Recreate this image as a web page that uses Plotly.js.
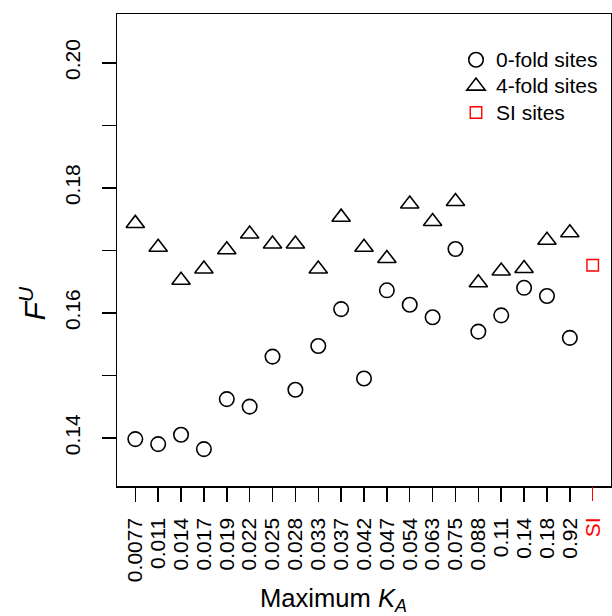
<!DOCTYPE html>
<html>
<head>
<meta charset="utf-8">
<script src="https://cdn.plot.ly/plotly-3.0.1.min.js"></script>
<style>
  html, body { margin: 0; padding: 0; background: #fff; }
  #chart { width: 612px; height: 616px; }
</style>
</head>
<body>
<div id="chart"></div>
<script>
// ---- data ----
var categories = ['0.0077','0.011','0.014','0.017','0.019','0.022','0.025','0.028','0.033','0.037',
                  '0.042','0.047','0.054','0.063','0.075','0.088','0.11','0.14','0.18','0.92'];
var zeroFold = [0.1398,0.1390,0.1405,0.1382,0.1462,0.1450,0.1530,0.1477,0.1547,0.1606,
                0.1495,0.1636,0.1613,0.1593,0.1702,0.1570,0.1596,0.1640,0.1627,0.1560];
var fourFold = [0.1743,0.1705,0.1652,0.1670,0.1701,0.1726,0.1710,0.1710,0.1670,0.1753,
                0.1705,0.1687,0.1774,0.1746,0.1778,0.1648,0.1667,0.1671,0.1716,0.1728];
var siLabel = ['SI'];
var siValue = [0.1676];
var yTickVals = [0.14,0.16,0.18,0.20];
var yTickText = ['0.14','0.16','0.18','0.20'];
var yMinorStep = 0.01;
var seriesNames = ['0-fold sites','4-fold sites','SI sites'];

// positions along the category axis
var xPos = categories.map(function(c, i){ return i + 1; });
var siPos = [categories.length + 1];

var FONT = 'Liberation Sans, Arial, Helvetica, sans-serif';
var LEGFONT = function(t){ return '<span style="font-size:21px">' + t + '</span>'; };

var traces = [
  {x: xPos, y: zeroFold, type: 'scatter', mode: 'markers', name: LEGFONT(seriesNames[0]),
   marker: {symbol: 'circle-open', size: 14.5, color: '#000', line: {width: 1.6, color: '#000'}}},
  {x: xPos, y: fourFold, type: 'scatter', mode: 'markers', name: LEGFONT(seriesNames[1]),
   marker: {symbol: 'triangle-up-open', size: 16, color: '#000', line: {width: 1.6, color: '#000'}}},
  {x: siPos, y: siValue, xaxis: 'x2', type: 'scatter', mode: 'markers', name: LEGFONT(seriesNames[2]),
   marker: {symbol: 'square-open', size: 11.5, color: '#ff0000', line: {width: 1.4, color: '#ff0000'}}}
];

var xRange = [0.2, categories.length + 1.8];
var L = 117, R = 1, T = 13.5, B = 130.3;
var W = 612, H = 616;
var pw = W - L - R, ph = H - T - B;
function px2paperX(p){ return (p - L) / pw; }
function px2paperY(p){ return (H - B - p) / ph; }

var layout = {
  width: W, height: H,
  margin: {l: L, r: R, t: T, b: B, pad: 0},
  paper_bgcolor: '#fff', plot_bgcolor: '#fff',
  font: {family: FONT, size: 21, color: '#000'},
  showlegend: true,
  legend: {
    x: px2paperX(456), y: px2paperY(41), xanchor: 'left', yanchor: 'top',
    bgcolor: 'rgba(0,0,0,0)', borderwidth: 0,
    font: {family: FONT, size: 18, color: '#000'},
    itemsizing: 'trace', tracegroupgap: 0
  },
  xaxis: {
    range: xRange, tickmode: 'array', tickvals: xPos, ticktext: categories,
    tickangle: -90, ticks: 'outside', ticklen: 14, tickwidth: 1.5, tickcolor: '#000',
    ticklabelstandoff: 8,
    showline: true, linewidth: 1.5, linecolor: '#000', mirror: true,
    showgrid: false, zeroline: false,
    tickfont: {family: FONT, size: 21, color: '#000'}
  },
  xaxis2: {
    range: xRange, overlaying: 'x', anchor: 'y', side: 'bottom',
    tickmode: 'array', tickvals: siPos, ticktext: siLabel,
    tickangle: -90, ticks: 'outside', ticklen: 14, tickwidth: 1.5, tickcolor: '#ff0000',
    ticklabelstandoff: 8,
    showline: false, showgrid: false, zeroline: false,
    tickfont: {family: FONT, size: 21, color: '#ff0000'}
  },
  yaxis: {
    range: [0.1323, 0.2078], tickmode: 'array', tickvals: yTickVals, ticktext: yTickText,
    tickangle: -90, ticks: 'outside', ticklen: 13.5, tickwidth: 1.5, tickcolor: '#000',
    ticklabelstandoff: 14,
    minor: {tick0: yTickVals[0], dtick: yMinorStep, ticks: 'outside', ticklen: 13.5,
            tickwidth: 1.5, tickcolor: '#000', showgrid: false},
    showline: true, linewidth: 1.5, linecolor: '#000', mirror: true,
    showgrid: false, zeroline: false,
    tickfont: {family: FONT, size: 21, color: '#000'}
  },
  annotations: [
    {xref: 'paper', yref: 'paper', x: px2paperX(33), y: px2paperY(303),
     xanchor: 'center', yanchor: 'middle', textangle: -90, showarrow: false,
     text: '<i>F</i><sup><i>U</i></sup>', font: {family: FONT, size: 30, color: '#000'}},
    {xref: 'paper', yref: 'paper', x: px2paperX(258), y: px2paperY(600),
     xanchor: 'left', yanchor: 'middle', showarrow: false,
     text: 'Maximum <i>K</i><sub><i>A</i></sub>', font: {family: FONT, size: 25.6, color: '#000'}}
  ]
};

Plotly.newPlot('chart', traces, layout, {displayModeBar: false, staticPlot: true});
</script>
</body>
</html>
